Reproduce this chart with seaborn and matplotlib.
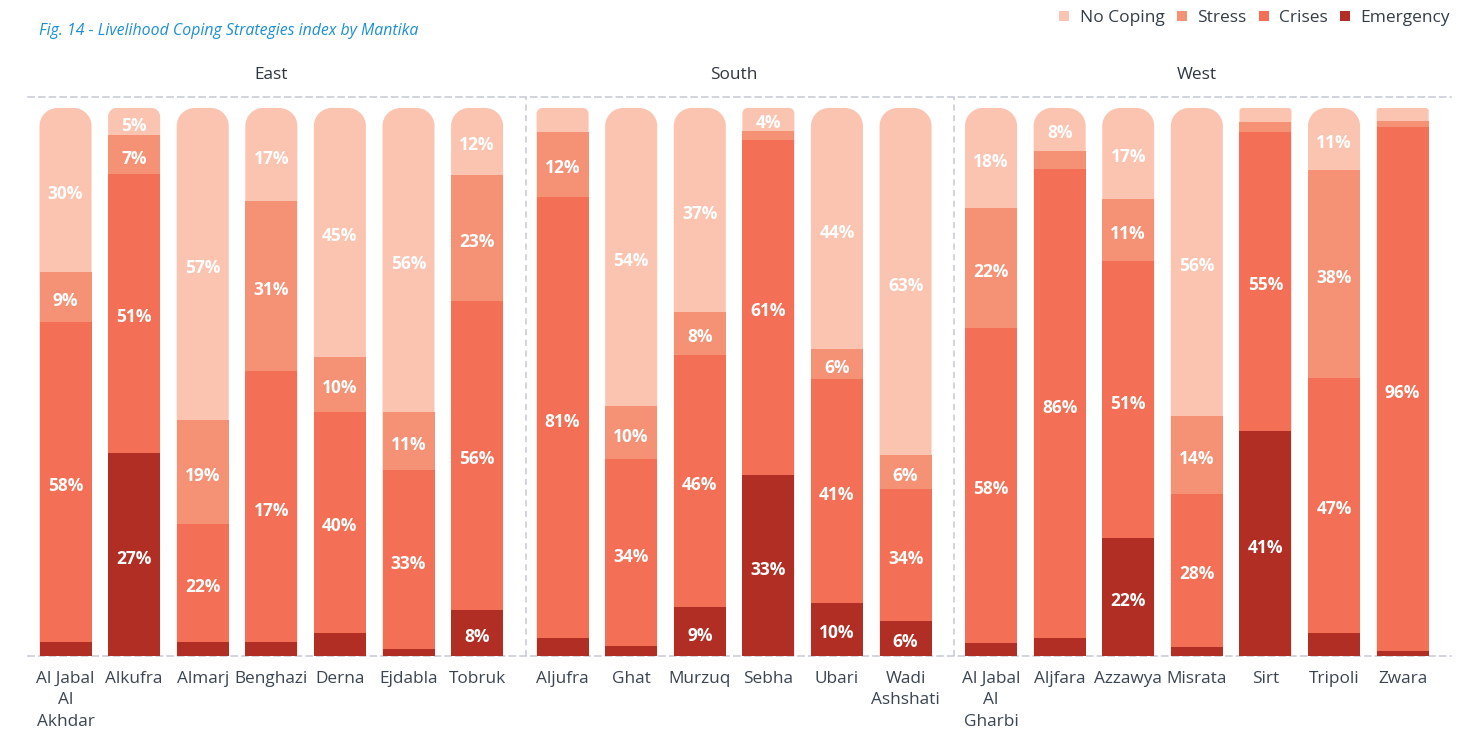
import numpy as np
import pandas as pd
import matplotlib
matplotlib.use("Agg")
import matplotlib.pyplot as plt
import seaborn as sns
from matplotlib.path import Path
from matplotlib.patches import PathPatch
from matplotlib.lines import Line2D
from matplotlib.transforms import blended_transform_factory, offset_copy

# ---------------- data ----------------
regions = ["East", "South", "West"]
region_of = ["East"] * 7 + ["South"] * 6 + ["West"] * 7
mantikas = ["Al Jabal Al Akhdar", "Alkufra", "Almarj", "Benghazi", "Derna", "Ejdabla", "Tobruk",
            "Aljufra", "Ghat", "Murzuq", "Sebha", "Ubari", "Wadi Ashshati",
            "Al Jabal Al Gharbi", "Aljfara", "Azzawya", "Misrata", "Sirt", "Tripoli", "Zwara"]
tick_labels = ["Al Jabal\nAl\nAkhdar", "Alkufra", "Almarj", "Benghazi", "Derna", "Ejdabla", "Tobruk",
               "Aljufra", "Ghat", "Murzuq", "Sebha", "Ubari", "Wadi\nAshshati",
               "Al Jabal\nAl\nGharbi", "Aljfara", "Azzawya", "Misrata", "Sirt", "Tripoli", "Zwara"]

no_coping = [30.0, 5.0, 57.0, 17.0, 45.4, 55.5, 12.2, 4.3, 54.4, 37.3, 4.2, 44.0, 63.4,
             18.2, 7.8, 16.6, 56.2, 2.5, 11.3, 2.4]
stress = [9.0, 7.0, 19.0, 31.0, 10.0, 10.6, 23.0, 11.9, 9.7, 7.7, 1.6, 5.5, 6.2,
          21.9, 3.4, 11.3, 14.2, 1.8, 37.9, 1.1]
crises = [58.4, 51.0, 21.5, 49.5, 40.4, 32.6, 56.4, 80.6, 34.1, 46.1, 61.2, 40.8, 24.0,
          57.5, 85.5, 50.6, 27.9, 54.7, 46.6, 95.6]
emergency = [2.6, 37.0, 2.5, 2.5, 4.2, 1.3, 8.4, 3.2, 1.8, 8.9, 33.0, 9.7, 6.4,
             2.4, 3.3, 21.5, 1.7, 41.0, 4.2, 0.9]

series_names = ["No Coping", "Stress", "Crises", "Emergency"]
series_colors = ["#fbc4b1", "#f59276", "#f36f55", "#b12e24"]

# labels printed in the source that differ from the drawn segment sizes
label_overrides = {("Alkufra", "Emergency"): "27%",
                   ("Benghazi", "Crises"): "17%",
                   ("Wadi Ashshati", "Crises"): "34%",
                   ("Sebha", "No Coping"): "4%"}

# ---------------- style ----------------
sns.set_theme(style="white")
plt.rcParams["font.family"] = ["Open Sans", "DejaVu Sans"]

W, H = 1483, 732
fig = plt.figure(figsize=(W / 100, H / 100), dpi=100)
ax = fig.add_axes([28 / W, (H - 656) / H, (1451 - 28) / W, (656 - 97) / H])

group_gap = 0.246
group_idx = [regions.index(r) for r in region_of]
pos = [i + group_gap * g for i, g in enumerate(group_idx)]

df = pd.DataFrame({"pos": pos, "mantika": mantikas, "No Coping": no_coping,
                   "Stress": stress, "Crises": crises, "Emergency": emergency})
# stack from the bottom: Emergency, Crises, Stress, No Coping
stack_order = ["Emergency", "Crises", "Stress", "No Coping"]
cum = df[stack_order].cumsum(axis=1)

xmin, xmax = -0.547, 20.197
ymin, ymax = 0, 102
ax.set_xlim(xmin, xmax)
ax.set_ylim(ymin, ymax)

bar_w = 0.758
# draw tallest cumulative first so the lower segments overlay it
for name in ["No Coping", "Stress", "Crises", "Emergency"]:
    color = series_colors[series_names.index(name)]
    sns.barplot(x=df["pos"], y=cum[name], native_scale=True, color=color,
                saturation=1, width=bar_w, errorbar=None, linewidth=0,
                edgecolor="none", ax=ax)

ax.set_xlim(xmin, xmax)
ax.set_ylim(ymin, ymax)

# rounded top on the uppermost segment
fig.canvas.draw()
bb = ax.get_window_extent()
ppx = bb.width / (xmax - xmin)
ppy = bb.height / (ymax - ymin)
top_container = ax.containers[0]
k = 0.5523
for rect, nc in zip(top_container.patches, df["No Coping"]):
    x0 = rect.get_x(); x1 = x0 + rect.get_width()
    y0 = rect.get_y(); y1 = y0 + rect.get_height()
    h_px = nc * ppy
    r_px = min(18.0, max(3.0, 0.75 * h_px - 12.0))
    rx, ry = r_px / ppx, r_px / ppy
    verts = [(x0, y0), (x0, y1 - ry), (x0, y1 - ry + k * ry), (x0 + rx - k * rx, y1), (x0 + rx, y1),
             (x1 - rx, y1), (x1 - rx + k * rx, y1), (x1, y1 - ry + k * ry), (x1, y1 - ry),
             (x1, y0), (x0, y0)]
    codes = [Path.MOVETO, Path.LINETO, Path.CURVE4, Path.CURVE4, Path.CURVE4,
             Path.LINETO, Path.CURVE4, Path.CURVE4, Path.CURVE4, Path.LINETO, Path.CLOSEPOLY]
    patch = PathPatch(Path(verts, codes), facecolor=rect.get_facecolor(), edgecolor="none",
                      linewidth=0, zorder=rect.get_zorder() - 0.05)
    rect.set_visible(False)
    ax.add_patch(patch)

# value labels (centred in each segment, nudged slightly for optical centring)
label_tr = offset_copy(ax.transData, fig=fig, x=0, y=-4, units="dots")
bottoms = np.zeros(len(df))
for name in stack_order:
    vals = df[name].to_numpy()
    for i, v in enumerate(vals):
        key = (mantikas[i], name)
        if key in label_overrides:
            txt = label_overrides[key]
        elif v >= 5:
            txt = f"{v:.0f}%"
        else:
            txt = None
        if txt:
            ax.text(pos[i], bottoms[i] + v / 2, txt, ha="center", va="center",
                    color="white", fontsize=12.5, fontweight="bold", zorder=5,
                    transform=label_tr)
    bottoms += vals

# axes decoration
grid_c = "#c6c9d5"
for s in ["left", "right"]:
    ax.spines[s].set_visible(False)
for s in ["top", "bottom"]:
    ax.spines[s].set_visible(True)
    ax.spines[s].set_color(grid_c)
    ax.spines[s].set_linewidth(1.1)
    ax.spines[s].set_linestyle((0, (4, 3)))
ax.spines["bottom"].set_zorder(0.5)

# region separators
for g in range(1, len(regions)):
    last_prev = max(p for p, gi in zip(pos, group_idx) if gi == g - 1)
    ax.axvline(last_prev + 0.707, color=grid_c, lw=1.1, ls=(0, (4, 3)), zorder=0.5)

ax.set_yticks([])
ax.set_xticks(pos)
ax.set_xticklabels(tick_labels, fontsize=12.4, color="#3b4552", linespacing=1.48)
ax.tick_params(axis="x", length=0, pad=10.5)
ax.set_xlabel("")
ax.set_ylabel("")

# region titles
tr = blended_transform_factory(ax.transData, fig.transFigure)
for g, r in enumerate(regions):
    gp = [p for p, gi in zip(pos, group_idx) if gi == g]
    ax.text(np.mean(gp), 1 - 75 / H, r, transform=tr, ha="center", va="center",
            fontsize=12.4, color="#2e3640")

# figure title
fig.text(39 / W, 1 - 31 / H, "Fig. 14 - Livelihood Coping Strategies index by Mantika",
         fontsize=11.4, style="italic", color="#1d8fd1", ha="left", va="center")

# legend
handles = [Line2D([], [], marker="s", ls="", markersize=7.2, color=c,
                  markeredgewidth=0) for c in series_colors]
fig.legend(handles, series_names, loc="center right",
           bbox_to_anchor=(1450 / W, 1 - 18 / H), ncol=4, frameon=False,
           handlelength=0.6, handletextpad=0.58, columnspacing=0.7,
           borderpad=0, borderaxespad=0, fontsize=12.5, labelcolor="#333d47")

fig.savefig("out.png", dpi=100)
